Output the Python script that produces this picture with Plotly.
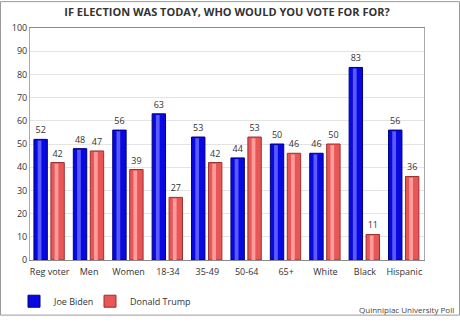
import plotly.graph_objects as go

categories = ["Reg voter", "Men", "Women", "18-34", "35-49", "50-64", "65+", "White", "Black", "Hispanic"]
biden = [52, 48, 56, 63, 53, 44, 50, 46, 83, 56]
trump = [42, 47, 39, 27, 42, 53, 46, 50, 11, 36]
y_ticks = [0, 10, 20, 30, 40, 50, 60, 70, 80, 90, 100]

FONT = "Open Sans"
BW = 0.34
fig = go.Figure()
fig.add_trace(go.Bar(
    x=categories, y=biden, name="Joe Biden", offset=-0.40, width=BW, legend="legend",
    marker=dict(color="#0808e0", line=dict(color="#00007a", width=1)),
    text=biden, textposition="outside", cliponaxis=False,
    textfont=dict(family=FONT, size=9, color="#333333"),
))
fig.add_trace(go.Bar(
    x=categories, y=trump, name="Donald Trump", offset=0.03, width=BW, legend="legend2",
    marker=dict(color="#e85656", line=dict(color="#9a3030", width=1)),
    text=trump, textposition="outside", cliponaxis=False,
    textfont=dict(family=FONT, size=9, color="#333333"),
))
# highlight stripes (gradient look)
fig.add_trace(go.Bar(
    x=categories, y=[v - 0.5 for v in biden], offset=-0.40 + BW * 0.28, width=BW * 0.28,
    marker=dict(color="#5a5aff", line=dict(width=0)), showlegend=False, hoverinfo="skip",
))
fig.add_trace(go.Bar(
    x=categories, y=[v - 0.5 for v in trump], offset=0.03 + BW * 0.28, width=BW * 0.28,
    marker=dict(color="#ff9c9c", line=dict(width=0)), showlegend=False, hoverinfo="skip",
))

W, H = 460, 328
ml, mr, mt, mb = 30, 36, 28, 58
pw, ph = W - ml - mr, H - mt - mb
leg_y = (270 - 313) / ph

fig.update_layout(
    width=W, height=H,
    margin=dict(l=ml, r=mr, t=mt, b=mb),
    paper_bgcolor="white", plot_bgcolor="white",
    barmode="overlay",
    font=dict(family=FONT, size=9, color="#333333"),
    title=dict(text="<b>IF ELECTION WAS TODAY, WHO WOULD YOU VOTE FOR FOR?</b>",
               x=0.5, xanchor="center", xref="paper", y=1 - 12 / H, yanchor="middle",
               font=dict(family=FONT, size=11, color="#333333")),
    showlegend=True,
    legend=dict(orientation="h", x=(14 - ml) / pw, xanchor="left", y=leg_y, yanchor="middle",
                bgcolor="rgba(0,0,0,0)",
                font=dict(family=FONT, size=9, color="#333333"), itemwidth=30),
    legend2=dict(orientation="h", x=(90 - ml) / pw, xanchor="left", y=leg_y, yanchor="middle",
                 bgcolor="rgba(0,0,0,0)",
                 font=dict(family=FONT, size=9, color="#333333"), itemwidth=30),
    xaxis=dict(showgrid=False, showline=True, linecolor="#8a8a8a", linewidth=1, mirror=True,
               range=[-0.5, 9.5], ticks="", ticklabelstandoff=3,
               tickfont=dict(family=FONT, size=9, color="#333333")),
    yaxis=dict(range=[0, 100], tickvals=y_ticks, showgrid=True, gridcolor="#e4e4e4",
               showline=True, linecolor="#aaaaaa", linewidth=1, mirror=True, zeroline=False,
               ticks="", tickfont=dict(family=FONT, size=9, color="#333333")),
)

# outer frame around the whole image
fig.add_shape(type="rect", xref="paper", yref="paper",
              x0=-(ml - 0.5) / pw, x1=1 + (mr - 0.5) / pw,
              y0=-(mb - 0.5) / ph, y1=1 + (mt - 0.5) / ph,
              line=dict(color="#9a9a9a", width=1), fillcolor="rgba(0,0,0,0)", layer="below")

fig.add_annotation(text="Quinnipiac University Poll", xref="paper", yref="paper",
                   x=1 + (mr - 4) / pw, xanchor="right", y=-(322 - mt - ph) / ph, yanchor="middle",
                   showarrow=False, font=dict(family=FONT, size=8, color="#444444"))

fig.write_html("out.html")
